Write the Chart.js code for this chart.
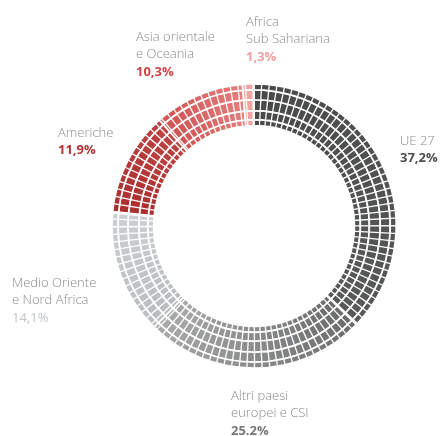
<!DOCTYPE html>
<html>
<head>
<meta charset="utf-8">
<script src="https://cdn.jsdelivr.net/npm/chart.js@4"></script>
<style>
  html, body { margin: 0; padding: 0; background: #fff; }
  #wrap { position: relative; width: 444px; height: 436px; }
</style>
</head>
<body>
<div id="wrap"><canvas id="donut" width="444" height="436"></canvas></div>
<script>
// data, clockwise from 12 o'clock
const REGIONS  = ["UE 27", "Altri paesi europei e CSI", "Medio Oriente e Nord Africa", "Americhe", "Asia orientale e Oceania", "Africa Sub Sahariana"];
const SHARES   = [37.2, 25.2, 14.1, 11.9, 10.3, 1.3];
const SHARE_LABELS = ["37,2%", "25.2%", "14,1%", "11,9%", "10,3%", "1,3%"];
// gradient start/end colour per segment
const COL_FROM = ["#484949", "#6a6b6c", "#b9bcbf", "#a92f2f", "#cf5252", "#f0a0a0"];
const COL_TO   = ["#58595a", "#a9aaab", "#cdd0d3", "#bf4343", "#e77d7d", "#f2a8a8"];
const PCT_COL  = ["#4d4d4d", "#777777", "#c2c6ca", "#b53232", "#cc4545", "#f0a0a0"];

// ring thicknesses, outer -> inner
const RING_WEIGHTS = [6, 10, 11, 9, 6];

// text blocks around the ring
const LABELS = [
    { lines: ["UE 27"],                         x: 400, y: 141, idx: 0, bold: true },
    { lines: ["Altri paesi", "europei e CSI"],  x: 231, y: 396, idx: 1, bold: true },
    { lines: ["Medio Oriente", "e Nord Africa"],x: 12,  y: 283, idx: 2, bold: false },
    { lines: ["Americhe"],                      x: 58,  y: 133, idx: 3, bold: true },
    { lines: ["Asia orientale", "e Oceania"],   x: 136, y: 37,  idx: 4, bold: true },
    { lines: ["Africa", "Sub Sahariana"],       x: 246, y: 22,  idx: 5, bold: true },
];

const total = SHARES.reduce((a, b) => a + b, 0);

let gradCache = null;
function ringFill(ctx) {
    const chart = ctx.chart;
    const area = chart.chartArea;
    if (!area) return COL_FROM[ctx.dataIndex];
    if (gradCache) return gradCache;
    const cx = (area.left + area.right) / 2, cy = (area.top + area.bottom) / 2;
    const g = chart.ctx.createConicGradient(-Math.PI / 2, cx, cy);
    let acc = 0;
    SHARES.forEach((v, i) => {
        const a0 = acc / total, a1 = (acc + v) / total;
        g.addColorStop(Math.min(a0 + 0.0005, 1), COL_FROM[i]);
        g.addColorStop(Math.max(a1 - 0.0005, 0), COL_TO[i]);
        acc += v;
    });
    gradCache = g;
    return g;
}

// white radial cuts give the tiled look
const tilePlugin = {
    id: "tiles",
    afterDatasetsDraw(chart) {
        const arc = chart.getDatasetMeta(0).data[0];
        if (!arc) return;
        const { x, y } = arc;
        const outer = arc.outerRadius + 2;
        const inner = chart.getDatasetMeta(RING_WEIGHTS.length - 1).data[0].innerRadius - 2;
        const c = chart.ctx;
        c.save();
        c.strokeStyle = "#ffffff";
        c.lineWidth = 1.3;
        const step = 3.1 * Math.PI / 180;
        for (let a = 0; a < Math.PI * 2; a += step) {
            const ang = a - Math.PI / 2;
            c.beginPath();
            c.moveTo(x + Math.cos(ang) * inner, y + Math.sin(ang) * inner);
            c.lineTo(x + Math.cos(ang) * outer, y + Math.sin(ang) * outer);
            c.stroke();
        }
        c.restore();
    },
};

const textPlugin = {
    id: "sideLabels",
    afterDraw(chart) {
        const c = chart.ctx;
        c.save();
        c.textBaseline = "middle";
        c.textAlign = "left";
        LABELS.forEach(l => {
            c.font = '300 13px "Open Sans", "Lato", sans-serif';
            c.fillStyle = "#8a8a8a";
            l.lines.forEach((t, i) => c.fillText(t, l.x, l.y + i * 17.5));
            c.font = (l.bold ? "700 " : "400 ") + '13px "Open Sans", "Lato", sans-serif';
            c.fillStyle = PCT_COL[l.idx];
            c.fillText(SHARE_LABELS[l.idx], l.x, l.y + l.lines.length * 17.5);
        });
        c.restore();
    },
};

const datasets = RING_WEIGHTS.map(w => ({
    data: SHARES,
    weight: w,
    backgroundColor: ringFill,
    borderColor: "#ffffff",
    borderWidth: 1.7,
    hoverOffset: 0,
}));

new Chart(document.getElementById("donut"), {
    type: "doughnut",
    data: { labels: REGIONS, datasets },
    options: {
        responsive: false,
        animation: false,
        cutout: "70.6%",
        layout: { padding: { left: 111, right: 47, top: 83, bottom: 67 } },
        plugins: { legend: { display: false }, tooltip: { enabled: false } },
    },
    plugins: [tilePlugin, textPlugin],
});
</script>
</body>
</html>
